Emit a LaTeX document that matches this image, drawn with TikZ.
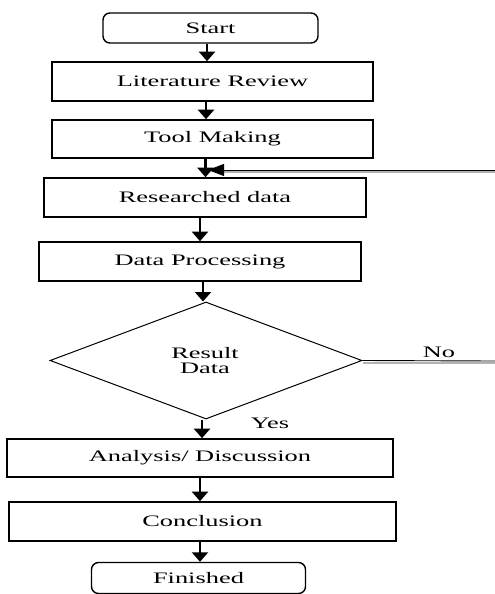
\documentclass[tikz,border=0pt]{standalone}
\usepackage{fontspec}
\setmainfont{Liberation Serif}
\newfontfamily\stretchfont{Liberation Serif}[FakeStretch=1.65]
\usetikzlibrary{arrows.meta,shapes.geometric}
\begin{document}
\begin{tikzpicture}[x=1pt,y=-1pt,
  lbl/.style={font=\stretchfont\fontsize{16}{15}\selectfont, inner sep=0pt},
  boxnode/.style={draw, line width=1.6pt, rectangle, inner sep=0pt, font=\stretchfont\fontsize{16}{15}\selectfont},
  termnode/.style={draw, line width=1.4pt, rectangle, rounded corners=7pt, inner sep=0pt, font=\stretchfont\fontsize{16}{15}\selectfont},
  arr/.style={line width=2.2pt, -{Triangle[length=9.5pt,width=16pt]}}]
\useasboundingbox[fill=white] (0,0) rectangle (495,594);
% nodes
\node[termnode, minimum width=215pt, minimum height=30pt] (start) at (210.5,28) {Start};
\node[boxnode, minimum width=321pt, minimum height=39pt] (lit) at (212.5,81.5) {Literature Review};
\node[boxnode, minimum width=321pt, minimum height=38pt] (tool) at (212.5,139) {Tool Making};
\node[boxnode, minimum width=322pt, minimum height=39pt] (res) at (205,197.5) {Researched data};
\node[boxnode, minimum width=322pt, minimum height=39pt] (proc) at (200,261.5) {Data Processing};
\node[draw, line width=1pt, shape=diamond, aspect=2.67, minimum width=312pt, minimum height=117pt, inner sep=0pt] (dec) at (206,360.5) {};
\node[lbl, align=center] (dectext) at (205,360.5) {Result\\Data};
\node[boxnode, minimum width=386pt, minimum height=38pt] (ana) at (200,458) {Analysis/ Discussion};
\node[boxnode, minimum width=387pt, minimum height=39pt] (conc) at (202.5,521.5) {Conclusion};
\node[termnode, minimum width=214pt, minimum height=31pt] (fin) at (198.5,578) {Finished};
\node[lbl] (yes) at (270,423) {Yes};
\node[lbl] (no) at (439,352) {No};
% main arrows
\draw[arr] (start.south -| 207,0) -- (lit.north -| 207,0);
\draw[arr] (lit.south -| 206,0) -- (tool.north -| 206,0);
\draw[arr] (tool.south -| 205.5,0) -- (res.north -| 205.5,0);
\draw[arr] (res.south -| 200,0) -- (proc.north -| 200,0);
\draw[arr] (proc.south -| 203,0) -- (dec.north -| 203,0);
\draw[arr] (dec.south -| 202,0) -- (ana.north -| 202,0);
\draw[arr] (ana.south -| 200,0) -- (conc.north -| 200,0);
\draw[arr] (conc.south -| 200,0) -- (fin.north -| 200,0);
% feedback line
\coordinate (fbR) at (495,170);
\coordinate (fbL) at (208,170);
\coordinate (fbRg) at (495,172);
\coordinate (fbLg) at (220,172);
\draw[gray!60, line width=1.6pt] (fbRg) -- (fbLg);
\draw[line width=0.9pt, -{Triangle[length=16pt,width=12pt]}] (fbR) -- (fbL);
% No line
\coordinate (noR) at (495,361);
\coordinate (noRg) at (495,363);
\coordinate (noLg) at (363,363);
\draw[gray!60, line width=1.4pt] (noLg) -- (noRg);
\draw[line width=0.9pt] (dec.east) -- (noR);
\end{tikzpicture}
\end{document}
